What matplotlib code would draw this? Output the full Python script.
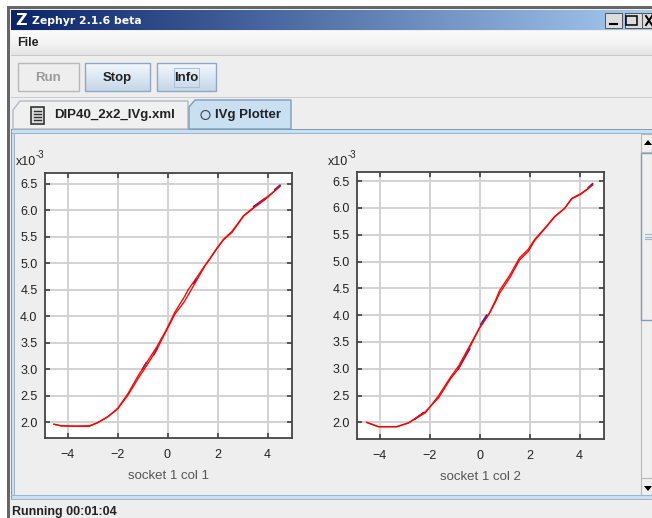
import numpy as np
import matplotlib
matplotlib.use('Agg')
import matplotlib.pyplot as plt
import matplotlib.patches as patches

W, H = 652, 518
gap = float('nan')

# forward and return sweeps (x10^-3)
col1_up_x = [-4.54, -4.27, -3.66, -3.13, -2.79, -2.39, -1.99, -1.58, -1.18, -0.91, -0.44, -0.04, 0.30, 0.67, 0.83, 1.10, 1.50, 1.70, 1.97, 2.24, 2.58, 3.05, 3.50, 3.85, 4.12, 4.50]
col1_up_y = [1.96, 1.93, 1.925, 1.93, 1.99, 2.10, 2.25, 2.51, 2.82, 3.01, 3.36, 3.73, 4.04, 4.27, 4.40, 4.62, 4.95, 5.08, 5.27, 5.44, 5.58, 5.89, 6.06, 6.18, 6.29, 6.45]
col1_down_x = [4.50, 4.12, 3.85, 3.50, 3.05, 2.58, 2.24, 1.97, 1.70, 1.50, 1.10, 0.83, 0.67, 0.30, -0.04, -0.44, -0.91, -1.18, -1.58, -1.99, -2.39, -2.79, -3.13, -3.66, -4.27, -4.54]
col1_down_y = [6.45, 6.30, 6.20, 6.07, 5.90, 5.60, 5.45, 5.28, 5.09, 4.96, 4.68, 4.50, 4.36, 4.08, 3.75, 3.41, 3.07, 2.87, 2.54, 2.26, 2.10, 1.99, 1.92, 1.92, 1.93, 1.96]
# the blue sweep only shows in a few short pieces
col1_blue_x = [-1.00, -0.85, gap, -0.55, -0.40, gap, 1.05, 1.15, gap, 3.45, 3.90, gap, 4.30, 4.50]
col1_blue_y = [3.00, 3.12, gap, 3.27, 3.40, gap, 4.62, 4.70, gap, 6.07, 6.22, gap, 6.39, 6.47]

col2_up_x = [-4.52, -4.05, -3.32, -2.85, -2.17, -1.64, -1.17, -0.83, -0.43, 0.00, 0.38, 0.64, 0.80, 1.20, 1.60, 1.95, 2.20, 2.68, 3.00, 3.40, 3.69, 4.03, 4.30, 4.52]
col2_up_y = [2.00, 1.92, 1.92, 1.99, 2.20, 2.46, 2.81, 3.01, 3.37, 3.76, 4.02, 4.25, 4.41, 4.69, 5.03, 5.19, 5.39, 5.65, 5.83, 5.99, 6.18, 6.26, 6.35, 6.43]
col2_down_x = [4.52, 4.30, 4.03, 3.69, 3.40, 3.00, 2.68, 2.20, 1.95, 1.60, 1.20, 0.80, 0.64, 0.38, 0.00, -0.43, -0.83, -1.17, -1.64, -2.17, -2.85, -3.32, -4.05, -4.52]
col2_down_y = [6.43, 6.34, 6.25, 6.17, 5.99, 5.84, 5.66, 5.41, 5.23, 5.07, 4.74, 4.46, 4.28, 4.03, 3.77, 3.40, 3.06, 2.84, 2.50, 2.18, 1.99, 1.92, 1.92, 2.00]
col2_blue_x = [-2.60, -2.25, gap, -0.85, -0.40, gap, 0.05, 0.28, gap, 4.35, 4.52]
col2_blue_y = [2.06, 2.18, gap, 3.00, 3.37, gap, 3.83, 4.00, gap, 6.38, 6.45]

x_ticks = [-4, -2, 0, 2, 4]
y_ticks = [2.0, 2.5, 3.0, 3.5, 4.0, 4.5, 5.0, 5.5, 6.0, 6.5]
ui_font = 'Liberation Sans'


def gradient(ax, x0, y0, x1, y1, colors, horizontal=False):
    rgb = np.array([matplotlib.colors.to_rgb(c) for c in colors])
    t = np.linspace(0, 1, 128)
    grad = np.stack([np.interp(t, np.linspace(0, 1, len(rgb)), rgb[:, i]) for i in range(3)], axis=-1)
    img = grad[np.newaxis, :, :] if horizontal else grad[:, np.newaxis, :]
    ax.imshow(img, extent=(x0, x1, y1, y0), aspect='auto', zorder=1, interpolation='bilinear')


def rect(ax, x, y, w, h, fc, ec='none', lw=1, z=2):
    ax.add_patch(patches.Rectangle((x, y), w, h, facecolor=fc, edgecolor=ec, linewidth=lw, zorder=z))


def button(ax, x, w, label, enabled=True):
    if enabled:
        gradient(ax, x, 63, x + w, 91, ['#f4f8fc', '#dce8f4', '#c4d6e8'])
        rect(ax, x, 63, w, 28, 'none', '#8fa8c0', 1.0, 3)
        ax.text(x + w / 2, 78, label, ha='center', va='center', fontsize=9.5, weight='bold', color='#222222', family=ui_font, zorder=4)
    else:
        rect(ax, x, 63, w, 28, '#eeeeee', '#b8b8b8', 1.0, 3)
        ax.text(x + w / 2, 78, label, ha='center', va='center', fontsize=9.5, weight='bold', color='#9a9a9a', family=ui_font, zorder=4)


def draw_window(ax):
    ax.set_xlim(0, W)
    ax.set_ylim(H, 0)
    ax.axis('off')

    # window frame and title bar
    rect(ax, 7, 6, W - 7, H - 6, '#eeeeee', z=0.5)
    rect(ax, 7, 6, W - 7, 3, '#666666')
    rect(ax, 7, 6, 3, H - 6, '#666666')
    gradient(ax, 11, 10, W, 30, ['#0a246a', '#a6caf0'], horizontal=True)
    ax.text(21, 20.5, 'Z', ha='center', va='center', fontsize=11.5, weight='bold', color='white', family='DejaVu Sans', zorder=4)
    ax.text(32, 20.5, 'Zephyr 2.1.6 beta', ha='left', va='center', fontsize=7.8, weight='bold', color='white', family='DejaVu Sans', zorder=4)

    # window buttons
    for x in [605, 625, 642]:
        rect(ax, x, 13, 17 if x < 642 else 12, 15, '#dcdcdc', '#555555', 0.7, 3)
    ax.plot([610, 617], [24, 24], color='black', lw=1.5, zorder=4)
    rect(ax, 626, 15.5, 11, 9, 'none', 'black', 1.1, 4)
    ax.plot([646, 652], [16, 25], color='black', lw=1.4, zorder=4)
    ax.plot([646, 652], [25, 16], color='black', lw=1.4, zorder=4)

    # menu bar
    gradient(ax, 11, 31, W, 55, ['#fbfbfb', '#f4f4f4', '#e4e4e4'])
    rect(ax, 11, 55, W, 1.2, '#c8c8c8')
    ax.text(17, 43, 'File', ha='left', va='center', fontsize=9, weight='bold', color='#222222', family=ui_font, zorder=4)

    # toolbar
    button(ax, 18, 61, 'Run', enabled=False)
    button(ax, 85, 65, 'Stop')
    button(ax, 157, 59, 'Info')
    rect(ax, 174, 68, 25, 19, 'none', '#a9c0d8', 0.7, 4)
    rect(ax, 11, 97, W, 1, '#cccccc')

    # tabs
    ax.add_patch(patches.Polygon([(13, 129), (13, 110), (20, 101), (188, 101), (188, 129)], closed=True, facecolor='#f0f0f0', edgecolor='#aeb9c6', lw=1, zorder=3))
    ax.add_patch(patches.Polygon([(189, 129), (189, 107), (195, 100), (291, 100), (291, 129)], closed=True, facecolor='#c9dff2', edgecolor='#7f9db9', lw=1, zorder=3))
    ax.text(54, 115, 'DIP40_2x2_IVg.xml', ha='left', va='center', fontsize=9.5, weight='bold', color='#222222', family=ui_font, zorder=4)
    ax.text(215, 115, 'IVg Plotter', ha='left', va='center', fontsize=9.5, weight='bold', color='#222222', family=ui_font, zorder=4)
    ax.add_patch(patches.Circle((205.5, 115), 4.5, facecolor='none', edgecolor='#444444', lw=0.8, zorder=4))

    # little file icon of the first tab
    rect(ax, 31, 107, 13, 17, '#dddddd', '#333333', 1.2, 4)
    for y in [111, 114, 117, 120]:
        ax.plot([34, 41], [y, y], color='#333333', lw=1, zorder=5)

    # content panel
    rect(ax, 11, 129, W, 5, '#c9dff2', z=2)
    rect(ax, 11, 129, W, 1, '#7f9db9', z=2.5)
    rect(ax, 11, 133, W, 1, '#9db4cc', z=2.5)
    rect(ax, 11, 129, 3, 370, '#c9dff2', z=2)
    rect(ax, 11, 129, 1, 370, '#7f9db9', z=2.5)
    rect(ax, 14, 134, 1, 361, '#9db4cc', z=2.5)
    rect(ax, 11, 495, W, 5, '#c9dff2', z=2)
    rect(ax, 11, 495, W, 1, '#9db4cc', z=2.5)
    rect(ax, 11, 499, W, 1, '#9db4cc', z=2.5)

    # scroll bar
    rect(ax, 641, 134, 11, 361, '#f0f0f0', '#b8b8b8', 0.8)
    gradient(ax, 642, 153, W, 320, ['#e6f0fa', '#f6fafe', '#d8e6f4'], horizontal=True)
    rect(ax, 641, 153, 12, 167, 'none', '#7f9db9', 1, 3)
    for y in [234, 236.5, 239]:
        ax.plot([645, 652], [y, y], color='#9db4cc', lw=0.8, zorder=4)
    ax.add_patch(patches.Polygon([(644, 145), (652, 145), (648, 140)], closed=True, fc='black', zorder=4))
    ax.add_patch(patches.Polygon([(644, 486), (652, 486), (648, 491)], closed=True, fc='black', zorder=4))
    ax.plot([641, 652], [152, 152], color='#b8b8b8', lw=0.8, zorder=4)
    ax.plot([641, 652], [478, 478], color='#b8b8b8', lw=0.8, zorder=4)

    # status bar
    ax.text(12, 511.5, 'Running 00:01:04', ha='left', va='center', fontsize=9, weight='bold', color='#222222', family=ui_font, zorder=4)


def draw_panel(fig, box, xlim, ylim, up, down, blue, xlabel, exp_x):
    left, top, right, bottom = box
    ax = fig.add_axes([left / W, 1 - bottom / H, (right - left) / W, (bottom - top) / H])
    ax.set_facecolor('white')
    ax.plot(blue[0], blue[1], color='#2020d0', lw=1.2, zorder=3)
    ax.plot(up[0], up[1], color='#ff0000', lw=0.95, zorder=4)
    ax.plot(down[0], down[1], color='#ff0000', lw=0.95, zorder=4)
    ax.set_xlim(xlim)
    ax.set_ylim(ylim)
    ax.set_xticks(x_ticks)
    ax.set_yticks(y_ticks)
    ax.set_yticklabels(['%.1f' % v for v in y_ticks])
    ax.grid(True, color='#d2d2d2', lw=1.4)
    ax.set_axisbelow(True)
    ax.tick_params(direction='in', length=3.5, width=1.1, color='#333333', top=True, right=True,
                   labelsize=9, labelcolor='#222222', pad=8)
    ax.tick_params(axis='y', pad=5)
    for s in ax.spines.values():
        s.set_color('#444444')
        s.set_linewidth(1.3)
    for t in ax.get_xticklabels() + ax.get_yticklabels():
        t.set_family(ui_font)
    ax.set_xlabel(xlabel, fontsize=9.5, color='#555555', family=ui_font, labelpad=6.5)
    fig.text(exp_x / W, 1 - 162 / H, 'x10', fontsize=9, color='#222222', family=ui_font, ha='left', va='center')
    fig.text((exp_x + 20) / W, 1 - 155 / H, '-3', fontsize=7, color='#222222', family=ui_font, ha='left', va='center')
    return ax


fig = plt.figure(figsize=(W / 100, H / 100), dpi=100, facecolor='white')
bg = fig.add_axes([0, 0, 1, 1])
draw_window(bg)

draw_panel(fig, (44.5, 172.5, 292, 438), (-4.92, 4.98), (1.70, 6.71),
           (col1_up_x, col1_up_y), (col1_down_x, col1_down_y), (col1_blue_x, col1_blue_y),
           'socket 1 col 1', 16)
draw_panel(fig, (356.7, 172, 604, 438.5), (-4.92, 4.98), (1.70, 6.67),
           (col2_up_x, col2_up_y), (col2_down_x, col2_down_y), (col2_blue_x, col2_blue_y),
           'socket 1 col 2', 328)

fig.savefig('out.png', dpi=100)
plt.close(fig)
